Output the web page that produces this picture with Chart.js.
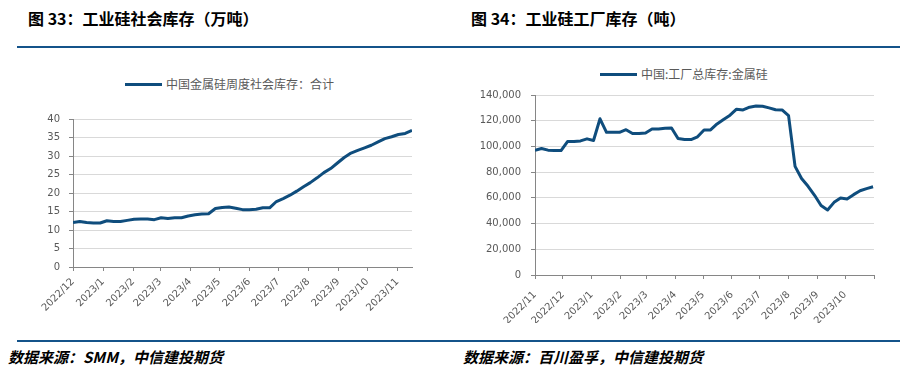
<!DOCTYPE html>
<html><head><meta charset="utf-8">
<script src="https://cdn.jsdelivr.net/npm/chart.js@4.4.0/dist/chart.umd.min.js"></script>
<style>
html,body{margin:0;padding:0;background:#fff;width:910px;height:374px;overflow:hidden;position:relative;font-family:"Noto Sans CJK SC",sans-serif;}
.title{position:absolute;top:7px;font-size:16px;font-weight:bold;color:#000;white-space:nowrap;line-height:22px;}
.rule{position:absolute;left:17px;width:883px;height:2px;background:#14538a;}
.src{position:absolute;top:346px;font-size:15px;font-weight:bold;font-style:italic;color:#000;white-space:nowrap;line-height:22px;}
.leg{position:absolute;font-size:12px;color:#595959;white-space:nowrap;line-height:16px;}
.legline{position:absolute;height:3px;background:#0f4d7d;}
canvas{position:absolute;}
</style></head><body>
<div class="title" style="left:28px">图 33：工业硅社会库存（万吨）</div>
<div class="title" style="left:471px">图 34：工业硅工厂库存（吨）</div>
<div class="rule" style="top:46px"></div>

<div class="legline" style="left:125px;top:83px;width:37px"></div>
<div class="leg" id="leg1" style="left:166px;top:76px"></div>
<div class="legline" style="left:600px;top:73px;width:37px"></div>
<div class="leg" id="leg2" style="left:641px;top:66px"></div>

<canvas id="c1" width="420" height="213" style="left:20px;top:104px"></canvas>
<canvas id="c2" width="440" height="244" style="left:465px;top:79px"></canvas>

<div class="rule" style="top:340px"></div>
<div class="src" style="left:8px">数据来源：SMM，中信建投期货</div>
<div class="src" style="left:463px">数据来源：百川盈孚，中信建投期货</div>

<script>
// ---- Chart 33: social inventory (10k tonnes), weekly ----
const socLabel = "中国金属硅周度社会库存：合计";
const socDates = ["2022-12-01","2022-12-08","2022-12-15","2022-12-22","2022-12-29",
 "2023-01-05","2023-01-12","2023-01-19","2023-01-26",
 "2023-02-02","2023-02-09","2023-02-16","2023-02-23",
 "2023-03-02","2023-03-09","2023-03-16","2023-03-23","2023-03-30",
 "2023-04-06","2023-04-13","2023-04-20","2023-04-27",
 "2023-05-04","2023-05-11","2023-05-18","2023-05-25",
 "2023-06-01","2023-06-08","2023-06-15","2023-06-22","2023-06-29",
 "2023-07-06","2023-07-13","2023-07-20","2023-07-27",
 "2023-08-03","2023-08-10","2023-08-17","2023-08-24","2023-08-31",
 "2023-09-07","2023-09-14","2023-09-21","2023-09-28",
 "2023-10-05","2023-10-12","2023-10-19","2023-10-26",
 "2023-11-02","2023-11-09","2023-11-16"];
const socValues = [12.0,12.3,12.0,11.9,11.9,12.5,12.3,12.3,12.6,12.9,
 13.0,13.0,12.8,13.3,13.1,13.3,13.3,13.8,14.1,14.3,
 14.4,15.8,16.1,16.2,15.9,15.5,15.5,15.6,16.0,16.0,
 17.7,18.5,19.4,20.5,21.7,22.8,24.1,25.5,26.6,28.1,
 29.6,30.8,31.5,32.2,32.9,33.8,34.7,35.2,35.8,36.1,36.9];
const socStart = "2022-12-01";
const socEnd = "2023-11-16";
const socTickDates = ["2022-12-01","2023-01-01","2023-02-01","2023-03-01","2023-04-01","2023-05-01",
 "2023-06-01","2023-07-01","2023-08-01","2023-09-01","2023-10-01","2023-11-01"];
const socTickLabels = ["2022/12","2023/1","2023/2","2023/3","2023/4","2023/5",
 "2023/6","2023/7","2023/8","2023/9","2023/10","2023/11"];
const socYTicks = [0,5,10,15,20,25,30,35,40];

// ---- Chart 34: factory inventory (tonnes), weekly ----
const facLabel = "中国:工厂总库存:金属硅";
const facDates = ["2022-11-01","2022-11-08","2022-11-15","2022-11-22","2022-11-29",
 "2022-12-06","2022-12-13","2022-12-20","2022-12-27",
 "2023-01-03","2023-01-10","2023-01-17","2023-01-24","2023-01-31",
 "2023-02-07","2023-02-14","2023-02-21","2023-02-28",
 "2023-03-07","2023-03-14","2023-03-21","2023-03-28",
 "2023-04-04","2023-04-11","2023-04-18","2023-04-25",
 "2023-05-02","2023-05-09","2023-05-16","2023-05-23","2023-05-30",
 "2023-06-06","2023-06-13","2023-06-20","2023-06-27",
 "2023-07-04","2023-07-11","2023-07-18","2023-07-25",
 "2023-08-01","2023-08-08","2023-08-15","2023-08-22","2023-08-29",
 "2023-09-05","2023-09-12","2023-09-19","2023-09-26",
 "2023-10-03","2023-10-10","2023-10-17","2023-10-24","2023-10-31"];
const facValues = [97000,98400,97100,96800,96800,103800,103800,104300,105900,104600,
 121500,111000,111000,111000,113000,110000,110000,110500,113500,113600,
 114200,114400,106200,105400,105300,107500,112800,112800,117500,121000,
 124300,129000,128400,130500,131400,131300,130000,128500,128400,124000,
 84500,75000,69000,62000,54000,50600,56500,59800,59200,62500,
 65500,67200,68600];
const facStart = "2022-11-01";
const facEnd = "2023-11-01";
const facTickDates = ["2022-11-01","2022-12-01","2023-01-01","2023-02-01","2023-03-01","2023-04-01",
 "2023-05-01","2023-06-01","2023-07-01","2023-08-01","2023-09-01","2023-10-01","2023-11-01"];
const facTickLabels = ["2022/11","2022/12","2023/1","2023/2","2023/3","2023/4",
 "2023/5","2023/6","2023/7","2023/8","2023/9","2023/10",""];
const facYTicks = [0,20000,40000,60000,80000,100000,120000,140000];

document.getElementById('leg1').textContent = socLabel;
document.getElementById('leg2').textContent = facLabel;

const LINE = '#0f4d7d', AXIS = '#868686', GRID = '#d9d9d9', TXT = '#595959';
const TICKFONT = {family: '"DejaVu Sans", Verdana, sans-serif', size: 10};

function dayOf(s, start) {
  const p = s.split('-').map(Number), q = start.split('-').map(Number);
  return (Date.UTC(p[0], p[1]-1, p[2]) - Date.UTC(q[0], q[1]-1, q[2])) / 86400000;
}
function fmt(v) { return v.toString().replace(/\B(?=(\d{3})+(?!\d))/g, ','); }

function build(id, o) {
  const tickDays = o.tickDates.map(d => dayOf(d, o.start));
  new Chart(document.getElementById(id), {
    type: 'line',
    data: {datasets: [{
      label: o.label,
      data: o.dates.map((d, i) => ({x: dayOf(d, o.start), y: o.values[i]})),
      borderColor: LINE, backgroundColor: LINE, borderWidth: 3,
      pointRadius: 0, tension: 0, fill: false, borderJoinStyle: 'round'
    }]},
    options: {
      responsive: false, animation: false, devicePixelRatio: 1,
      layout: {padding: o.padding},
      plugins: {legend: {display: false}, tooltip: {enabled: false}},
      scales: {
        x: {
          type: 'linear', min: 0, max: dayOf(o.end, o.start),
          afterBuildTicks: ax => { ax.ticks = tickDays.map(v => ({value: v})); },
          afterFit: s => { s.height = o.xHeight; },
          ticks: {autoSkip: false, maxRotation: 45, minRotation: 45, padding: o.xPad,
                  font: TICKFONT, color: TXT, callback: (v, i) => o.tickLabels[i]},
          grid: {drawOnChartArea: false, drawTicks: true, tickLength: 4, tickColor: AXIS},
          border: {color: AXIS, width: 1}
        },
        y: {
          min: o.yTicks[0], max: o.yTicks[o.yTicks.length - 1],
          afterBuildTicks: ax => { ax.ticks = o.yTicks.map(v => ({value: v})); },
          afterFit: s => { s.width = o.yWidth; },
          ticks: {padding: o.yPad, font: TICKFONT, color: TXT, callback: v => fmt(v)},
          grid: {color: GRID, lineWidth: 1, tickLength: 4, tickColor: AXIS},
          border: {color: AXIS, width: 1}
        }
      }
    }
  });
}

build('c1', {label: socLabel, dates: socDates, values: socValues, start: socStart, end: socEnd,
  tickDates: socTickDates, tickLabels: socTickLabels, yTicks: socYTicks,
  yWidth: 40, xHeight: 50, yPad: 9, xPad: 5,
  padding: {left: 13, right: 28, top: 5, bottom: 0}});
build('c2', {label: facLabel, dates: facDates, values: facValues, start: facStart, end: facEnd,
  tickDates: facTickDates, tickLabels: facTickLabels, yTicks: facYTicks,
  yWidth: 55, xHeight: 48, yPad: 10, xPad: 10,
  padding: {left: 15, right: 31, top: 5, bottom: 0}});
</script>
</body></html>
